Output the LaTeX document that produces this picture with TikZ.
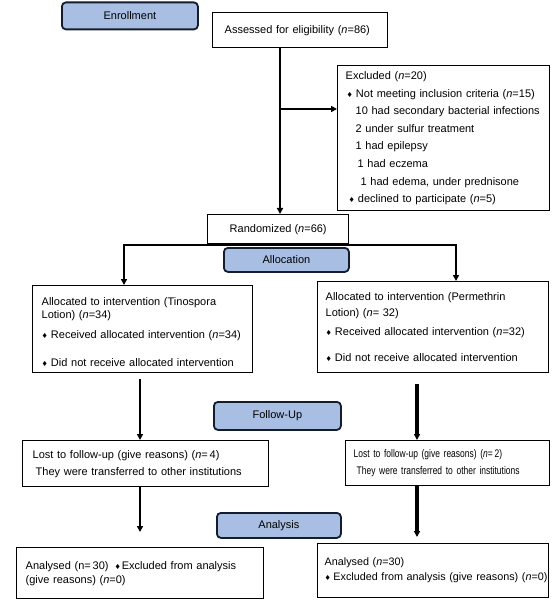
\documentclass[tikz,border=0pt]{standalone}
\usepackage{fontspec}
\setmainfont{Liberation Sans}
\newfontfamily\dejavu{DejaVu Sans}
\newfontfamily\condfont[FakeStretch=0.77]{Liberation Sans}
\usetikzlibrary{arrows.meta}
\definecolor{stageblue}{RGB}{168,190,227}
\definecolor{stageedge}{RGB}{20,28,48}
\newcommand{\dmdbullet}{{\dejavu\fontsize{7}{7}\selectfont\char"2666}\hspace{3pt}}
\newcommand{\padl}[1]{\leftskip=#1\rightskip=0pt plus 1fil\parfillskip=0pt plus 1fil\parindent=0pt\relax}
\tikzset{
  box/.style={draw, line width=1.4pt, anchor=north west, inner sep=0pt,
    font=\fontsize{11}{13}\selectfont},
  cbox/.style={draw, line width=1.4pt, anchor=north west, inner sep=0pt,
    font=\fontsize{11}{13}\selectfont},
  stage/.style={cbox, fill=stageblue, draw=stageedge, rounded corners=4pt, line width=1.8pt},
  conn/.style={line width=2.2pt, line join=miter},
  connL/.style={line width=2.6pt},
  connR/.style={line width=3.4pt},
}
\begin{document}
\begin{tikzpicture}[x=1pt,y=-1pt,>={Triangle[length=6pt,width=6pt]}]
\useasboundingbox (0,0) rectangle (551,601);

\node[stage, minimum width=136pt, minimum height=27pt] (enroll) at (61,1.5) {Enrollment\hspace{8pt}};
\node[box, text width=175pt, minimum height=35pt] (assess) at (212,12)
  {\padl{12pt}Assessed for eligibility (\textit{n}=86)\par};
\node[box, text width=212pt, minimum height=145pt, font=\fontsize{11}{17.6}\selectfont] (excl) at (337,65)
  {\padl{8pt}Excluded (\textit{n}=20)\\
   \hspace*{1pt}\dmdbullet Not meeting inclusion criteria (\textit{n}=15)\\
   \hspace*{10pt}10 had secondary bacterial infections\\
   \hspace*{10pt}2 under sulfur treatment\\
   \hspace*{10pt}1 had epilepsy\\
   \hspace*{12pt}1 had eczema\\
   \hspace*{15pt}1 had edema, under prednisone\\
   \hspace*{3pt}\dmdbullet declined to participate (\textit{n}=5)\par};
\node[cbox, minimum width=141pt, minimum height=29pt] (rand) at (207,214) {Randomized (\textit{n}=66)};
\node[stage, minimum width=125pt, minimum height=24pt] (alloc) at (223,247) {Allocation};

\node[box, text width=220pt, minimum height=87pt] (allocL) at (32,285)
  {\padl{9pt}\rule{0pt}{14pt}Allocated to intervention (Tinospora\\
   Lotion) (\textit{n}=34)\\[7pt]
   \dmdbullet Received allocated intervention (\textit{n}=34)\\[15pt]
   \dmdbullet Did not receive allocated intervention\par};
\node[box, text width=231pt, minimum height=91pt, font=\fontsize{11}{16}\selectfont] (allocR) at (317,281)
  {\padl{8pt}Allocated to intervention (Permethrin\\
   Lotion) (\textit{n}= 32)\\[3pt]
   \dmdbullet Received allocated intervention (\textit{n}=32)\\[10pt]
   \dmdbullet Did not receive allocated intervention\par};

\node[stage, minimum width=127pt, minimum height=28pt] (follow) at (213,401) {Follow-Up};
\node[box, text width=246pt, minimum height=46pt, font=\fontsize{11}{17}\selectfont] (lostL) at (22,440)
  {\padl{10pt}Lost to follow-up (give reasons) (\textit{n}=\,4)\\
   \hspace*{3pt}They were transferred to other institutions\par};
\node[box, text width=204pt, minimum height=45pt, font=\condfont\fontsize{11}{17}\selectfont] (lostR) at (345,440)
  {\padl{8pt}Lost to follow-up (give reasons) (\textit{n}=\,2)\\
   \hspace*{3pt}They were transferred to other institutions\par};

\node[stage, minimum width=124pt, minimum height=25pt] (analysis) at (216,512) {Analysis};
\node[box, text width=247pt, minimum height=51pt, font=\fontsize{11}{14}\selectfont] (anaL) at (16,547)
  {\padl{9pt}Analysed (n=\,30)\hspace{6pt}\dmdbullet\hspace{-2pt}Excluded from analysis\\
   (give reasons) (\textit{n}=0)\par};
\node[box, text width=231pt, minimum height=54pt, font=\fontsize{10.8}{15}\selectfont] (anaR) at (317,543)
  {\padl{7pt}Analysed (\textit{n}=30)\\
   \mbox{\dmdbullet\hspace{-0.5pt}Excluded from analysis (give reasons) (\textit{n}=0)}\par};

% connectors
\path (assess.south west) ++(68,0) coordinate (a1);
\path (excl.north west) ++(0,44) coordinate (exin);
\draw[conn,->] (a1) -- (a1 |- rand.north);
\draw[conn,->] (a1 |- exin) -- (exin);

\path (allocL.north west) ++(92,-40) coordinate (sL);
\path (allocR.north west) ++(139,-36) coordinate (sR);
\draw[conn,<->] (sL |- allocL.north) -- (sL) -- (sR) -- (sR |- allocR.north);

\path (lostL.north west) ++(118,0) coordinate (lL);
\draw[connL,->,shorten <=6pt] (lL |- allocL.south) -- (lL);
\draw[connL,->,shorten >=15pt] (lL |- lostL.south) -- (lL |- anaL.north);

\path (lostR.north west) ++(72,0) coordinate (lR);
\draw[connR,->,shorten <=11pt] (lR |- allocR.south) -- (lR);
\draw[connR,->,shorten >=6pt] (lR |- lostR.south) -- (lR |- anaR.north);
\end{tikzpicture}
\end{document}
